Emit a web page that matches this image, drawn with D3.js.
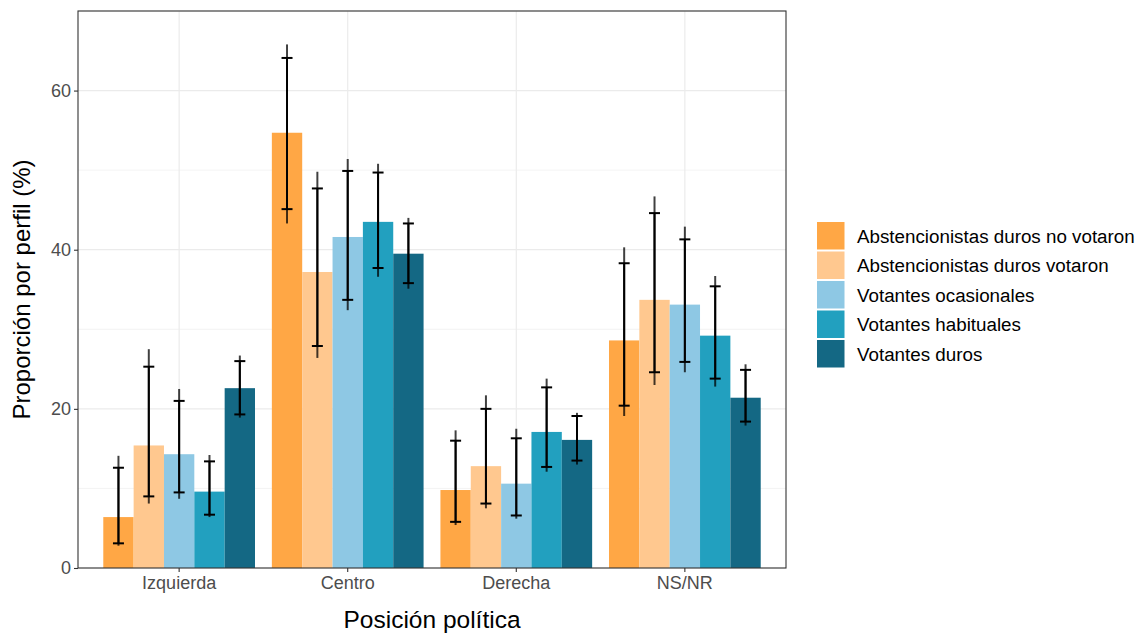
<!DOCTYPE html>
<html>
<head>
<meta charset="utf-8">
<script src="https://cdn.jsdelivr.net/npm/d3@7"></script>
<style>
  body { margin: 0; background: #fff; }
  svg { display: block; font-family: "Liberation Sans", Arial, sans-serif; }
</style>
</head>
<body>
<svg id="chart" width="1141" height="633"></svg>
<script>
// Political position categories and voter profiles
const categories = ["Izquierda", "Centro", "Derecha", "NS/NR"];
const profiles = [
  "Abstencionistas duros no votaron",
  "Abstencionistas duros votaron",
  "Votantes ocasionales",
  "Votantes habituales",
  "Votantes duros"
];
const colors = ["#FFA745", "#FFC88F", "#8EC8E4", "#22A0BF", "#146884"];

// Share per profile (%), one array per profile, ordered as categories
const share = [
  [6.4, 54.7, 9.8, 28.6],
  [15.4, 37.2, 12.8, 33.7],
  [14.3, 41.6, 10.6, 33.1],
  [9.6, 43.5, 17.1, 29.2],
  [22.6, 39.5, 16.1, 21.4]
];
// Inner interval (capped)
const innerLow = [
  [3.1, 45.1, 5.8, 20.4],
  [9.0, 27.9, 8.1, 24.6],
  [9.5, 33.7, 6.6, 25.9],
  [6.7, 37.7, 12.7, 23.8],
  [19.3, 35.8, 13.5, 18.4]
];
const innerHigh = [
  [12.6, 64.1, 16.0, 38.3],
  [25.3, 47.7, 20.0, 44.6],
  [21.0, 49.9, 16.3, 41.3],
  [13.4, 49.7, 22.7, 35.4],
  [26.0, 43.3, 19.1, 24.9]
];
// Outer interval (line ends)
const outerLow = [
  [2.8, 43.3, 5.4, 19.1],
  [8.1, 26.4, 7.5, 23.0],
  [8.7, 32.4, 6.2, 24.6],
  [6.4, 36.6, 12.1, 22.8],
  [18.9, 35.1, 13.0, 17.9]
];
const outerHigh = [
  [14.1, 65.8, 17.3, 40.3],
  [27.5, 49.8, 21.7, 46.7],
  [22.5, 51.4, 17.5, 42.9],
  [14.2, 50.8, 23.8, 36.7],
  [26.7, 44.0, 19.5, 25.6]
];
const yTicks = [0, 20, 40, 60];
const yMinor = [10, 30, 50, 70];

const svg = d3.select("#chart");
const panel = { left: 78, right: 786, top: 11, bottom: 568 };

const x = d3.scaleBand()
  .domain(categories)
  .range([panel.left, panel.right])
  .paddingInner(0.1)
  .paddingOuter(0.15);
const xInner = d3.scaleBand()
  .domain(d3.range(profiles.length))
  .range([0, x.bandwidth()]);
const y = d3.scaleLinear().domain([0, 70]).range([panel.bottom, panel.top]);

// Grid
const grid = svg.append("g");
grid.selectAll("line.minor").data(yMinor).join("line")
  .attr("x1", panel.left).attr("x2", panel.right)
  .attr("y1", d => y(d)).attr("y2", d => y(d))
  .attr("stroke", "#EBEBEB").attr("stroke-width", 0.6);
grid.selectAll("line.major").data(yTicks).join("line")
  .attr("x1", panel.left).attr("x2", panel.right)
  .attr("y1", d => y(d)).attr("y2", d => y(d))
  .attr("stroke", "#EBEBEB").attr("stroke-width", 1.2);
grid.selectAll("line.vx").data(categories).join("line")
  .attr("x1", d => x(d) + x.bandwidth() / 2).attr("x2", d => x(d) + x.bandwidth() / 2)
  .attr("y1", panel.top).attr("y2", panel.bottom)
  .attr("stroke", "#EBEBEB").attr("stroke-width", 1.2);

// Bars
const rows = [];
profiles.forEach((p, i) => categories.forEach((c, j) => rows.push({
  i, c, v: share[i][j],
  il: innerLow[i][j], ih: innerHigh[i][j],
  ol: outerLow[i][j], oh: outerHigh[i][j]
})));

svg.append("g").selectAll("rect").data(rows).join("rect")
  .attr("x", d => x(d.c) + xInner(d.i))
  .attr("width", xInner.bandwidth())
  .attr("y", d => y(d.v))
  .attr("height", d => y(0) - y(d.v))
  .attr("fill", d => colors[d.i]);

// Error bars
const eb = svg.append("g").selectAll("g").data(rows).join("g")
  .attr("transform", d => `translate(${x(d.c) + xInner(d.i) + xInner.bandwidth() / 2},0)`);
eb.append("line")
  .attr("y1", d => y(d.ol)).attr("y2", d => y(d.oh))
  .attr("stroke", "#000").attr("stroke-opacity", 0.75).attr("stroke-width", 2);
eb.append("line")
  .attr("y1", d => y(d.il)).attr("y2", d => y(d.ih))
  .attr("stroke", "#000").attr("stroke-width", 2);
eb.selectAll("line.cap").data(d => [d.il, d.ih]).join("line")
  .attr("x1", -5.5).attr("x2", 5.5)
  .attr("y1", d => y(d)).attr("y2", d => y(d))
  .attr("stroke", "#000").attr("stroke-width", 2);

// Panel border
svg.append("rect")
  .attr("x", panel.left).attr("y", panel.top)
  .attr("width", panel.right - panel.left).attr("height", panel.bottom - panel.top)
  .attr("fill", "none").attr("stroke", "#333333").attr("stroke-width", 1.1);

// Axes
const yAxis = svg.append("g").attr("transform", `translate(${panel.left},0)`)
  .call(d3.axisLeft(y).tickValues(yTicks).tickSize(4).tickPadding(3));
const xAxis = svg.append("g").attr("transform", `translate(0,${panel.bottom})`)
  .call(d3.axisBottom(x).tickSize(4).tickPadding(4));
[yAxis, xAxis].forEach(a => {
  a.select(".domain").remove();
  a.selectAll(".tick line").attr("stroke", "#333333").attr("stroke-width", 1.1);
  a.selectAll(".tick text").attr("fill", "#4D4D4D").style("font-size", "18px")
    .style("font-family", "'Liberation Sans', Arial, sans-serif");
});

// Axis titles
svg.append("text")
  .attr("x", (panel.left + panel.right) / 2).attr("y", 628)
  .attr("text-anchor", "middle").style("font-size", "24.5px").attr("fill", "#000")
  .text("Posición política");
svg.append("text")
  .attr("transform", `translate(30,${(panel.top + panel.bottom) / 2}) rotate(-90)`)
  .attr("text-anchor", "middle").style("font-size", "24px").attr("fill", "#000")
  .text("Proporción por perfil (%)");

// Legend
const legend = svg.append("g").attr("transform", "translate(817,222)");
const item = legend.selectAll("g").data(profiles).join("g")
  .attr("transform", (d, i) => `translate(0,${i * 29.5})`);
item.append("rect")
  .attr("width", 27.5).attr("height", 27.5)
  .attr("fill", (d, i) => colors[i]);
item.append("text")
  .attr("x", 40).attr("y", 14).attr("dy", "0.35em")
  .style("font-size", "18.8px").attr("fill", "#000")
  .text(d => d);
</script>
</body>
</html>
